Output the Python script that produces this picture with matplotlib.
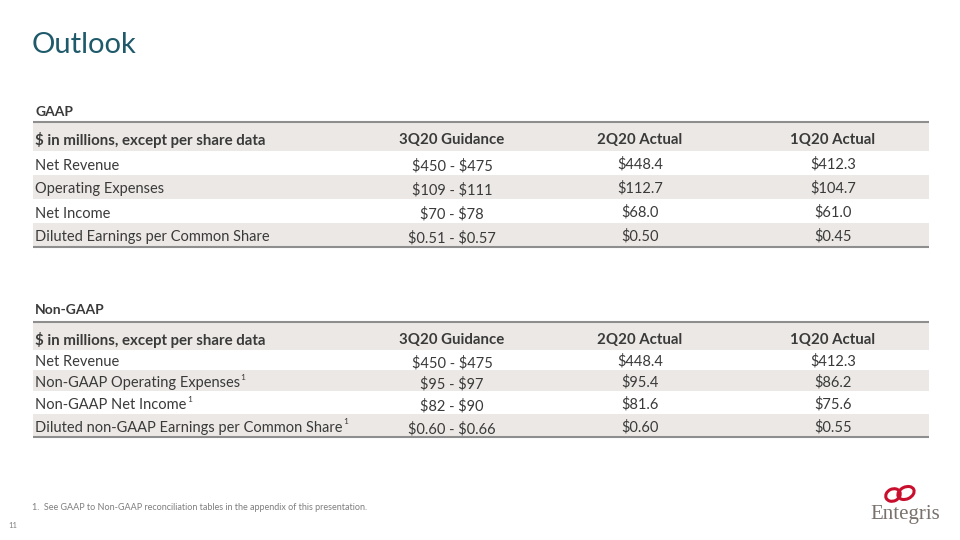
import matplotlib
matplotlib.use("Agg")
import matplotlib.pyplot as plt
from matplotlib.patches import Rectangle, Ellipse

plt.rcParams['font.family'] = ['Lato', 'DejaVu Sans']
plt.rcParams['text.parse_math'] = False

# table data
columns = ['$ in millions, except per share data', '3Q20 Guidance', '2Q20 Actual', '1Q20 Actual']

gaap_rows = ['Net Revenue', 'Operating Expenses', 'Net Income',
             'Diluted Earnings per Common Share']
gaap_guidance = ['$450 - $475', '$109 - $111', '$70 - $78', '$0.51 - $0.57']
gaap_2q20 = ['$448.4', '$112.7', '$68.0', '$0.50']
gaap_1q20 = ['$412.3', '$104.7', '$61.0', '$0.45']

nongaap_rows = ['Net Revenue', 'Non-GAAP Operating Expenses', 'Non-GAAP Net Income',
                'Diluted non-GAAP Earnings per Common Share']
nongaap_note = [False, True, True, True]
nongaap_guidance = ['$450 - $475', '$95 - $97', '$82 - $90', '$0.60 - $0.66']
nongaap_2q20 = ['$448.4', '$95.4', '$81.6', '$0.60']
nongaap_1q20 = ['$412.3', '$86.2', '$75.6', '$0.55']

TEXT = '#3a3a3a'
SHADE = '#ece8e5'
LINE = '#8e8e8e'

fig = plt.figure(figsize=(9.6, 5.4), dpi=100)
ax = fig.add_axes([0, 0, 1, 1])
ax.set_xlim(0, 960)
ax.set_ylim(540, 0)
ax.axis('off')

col_x = [35, 452, 640, 833]
x0, x1 = 33, 929


def draw_table(title, title_y, top, bands, rows, notes, c1, c2, c3):
    ax.text(35, title_y, title, fontsize=10, fontweight='bold', color=TEXT, va='center')
    # bands: header + rows, every other one shaded
    for i, (b0, b1) in enumerate(bands):
        if i % 2 == 0:
            ax.add_patch(Rectangle((x0, b0), x1 - x0, b1 - b0, color=SHADE, lw=0, zorder=0))
    ax.plot([x0, x1], [top, top], color=LINE, lw=1.5, solid_capstyle='butt')
    ax.plot([x0, x1], [bands[-1][1], bands[-1][1]], color=LINE, lw=1.5, solid_capstyle='butt')
    hy = (bands[0][0] + bands[0][1]) / 2 + 4
    ax.text(col_x[0], hy, columns[0], fontsize=10.8, fontweight='bold', color=TEXT, va='center')
    for j in range(1, 4):
        ax.text(col_x[j], hy, columns[j], fontsize=10.8, fontweight='bold', color=TEXT,
                va='center', ha='center')
    fig.canvas.draw()
    r = fig.canvas.get_renderer()
    for i, name in enumerate(rows):
        b0, b1 = bands[i + 1]
        y = (b0 + b1) / 2 + 2.5
        t = ax.text(col_x[0], y, name, fontsize=10.5, color=TEXT, va='center')
        if notes[i]:
            bb = t.get_window_extent(renderer=r)
            xe = ax.transData.inverted().transform((bb.x1, 0))[0]
            ax.text(xe + 0.5, y - 6, '1', fontsize=6, color=TEXT, va='center')
        ax.text(col_x[1], y + 1, c1[i], fontsize=10.5, color=TEXT, va='center', ha='center')
        ax.text(col_x[2], y - 1, c2[i], fontsize=10.5, color=TEXT, va='center', ha='center')
        ax.text(col_x[3], y - 1, c3[i], fontsize=10.5, color=TEXT, va='center', ha='center')


draw_table('GAAP', 112, 122,
           [(122, 151), (151, 175), (175, 199), (199, 223), (223, 247)],
           gaap_rows, [False] * 4, gaap_guidance, gaap_2q20, gaap_1q20)

draw_table('Non-GAAP', 310, 322,
           [(322, 350), (350, 370), (370, 391), (391, 414), (414, 437)],
           nongaap_rows, nongaap_note, nongaap_guidance, nongaap_2q20, nongaap_1q20)

# title
ax.text(32, 45, 'Outlook', fontsize=21, color='#1f5a6b', va='center')

# footnote and page number
ax.text(32, 508, '1.  See GAAP to Non-GAAP reconciliation tables in the appendix of this presentation.',
        fontsize=6.5, color='#7f7f7f', va='center')
ax.text(8, 525, '11', fontsize=5.5, color='#7f7f7f', va='center')

# logo
ax.add_patch(Ellipse((893, 495), 15, 12, angle=-25, fill=False, ec='#c8102e', lw=2.2))
ax.add_patch(Ellipse((906, 493), 17, 12, angle=-25, fill=False, ec='#c8102e', lw=2.2))
ax.text(905, 515, 'Entegris', fontsize=15, color='#7a726d', va='center', ha='center',
        family='Liberation Serif')

fig.savefig('out.png', dpi=100)
